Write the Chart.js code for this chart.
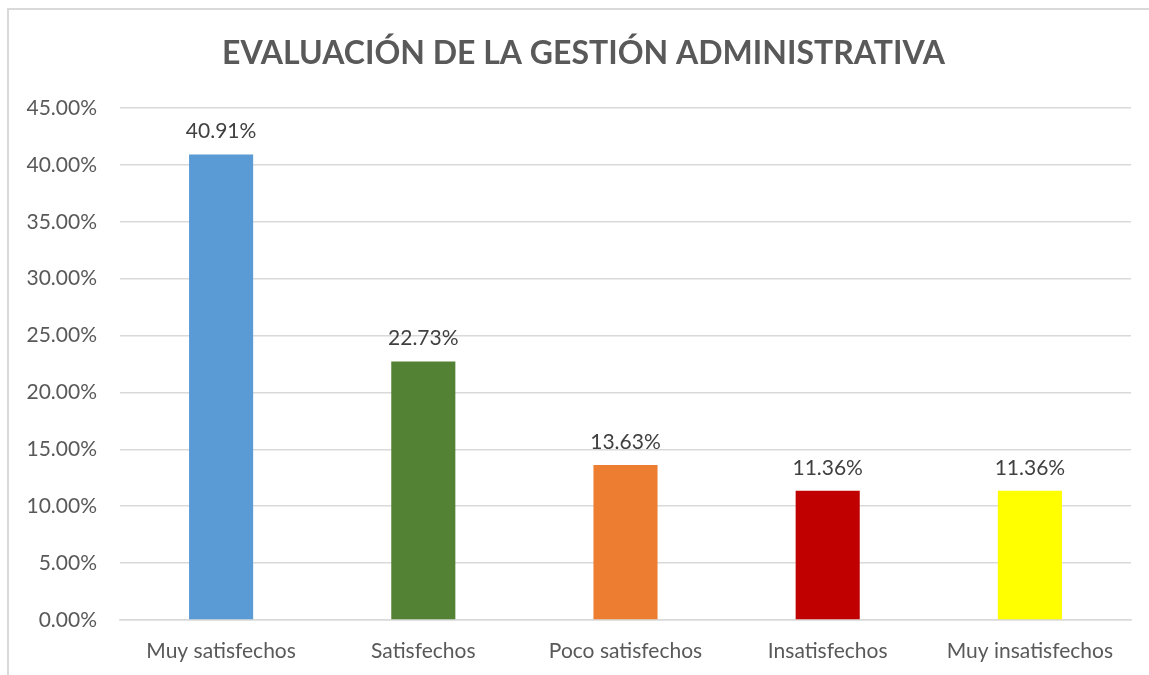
<!DOCTYPE html>
<html>
<head>
<meta charset="utf-8">
<script src="https://cdn.jsdelivr.net/npm/chart.js@4.4.1/dist/chart.umd.min.js"></script>
<style>
html,body{margin:0;padding:0;background:#fff;}
#wrap{position:absolute;left:0;top:0;width:1149px;height:675px;}
#frame{position:absolute;left:7px;top:8px;width:1160px;height:700px;border-left:2px solid #d9d9d9;border-top:2px solid #d9d9d9;box-sizing:border-box;pointer-events:none;}
canvas{position:absolute;left:0;top:0;}
</style>
</head>
<body>
<div id="wrap">
<canvas id="c" width="1149" height="675"></canvas>
<div id="frame"></div>
</div>
<script>
const titleText = 'EVALUACIÓN DE LA GESTIÓN ADMINISTRATIVA';
const categories = ['Muy satisfechos', 'Satisfechos', 'Poco satisfechos', 'Insatisfechos', 'Muy insatisfechos'];
const values = [40.91, 22.73, 13.63, 11.36, 11.36];
const barColors = ['#5B9BD5', '#548235', '#ED7D31', '#C00000', '#FFFF00'];
const yTicks = [0, 5, 10, 15, 20, 25, 30, 35, 40, 45];

const FONT = 'Lato, "Open Sans", sans-serif';

const dataLabels = {
  id: 'dataLabels',
  afterLayout(chart) {
    // center the title over the chart frame (which starts at x = 8)
    const t = chart.titleBlock;
    if (t) { t.left += 18; t.right += 18; }
  },
  afterDatasetsDraw(chart) {
    const ctx = chart.ctx;
    const meta = chart.getDatasetMeta(0);
    ctx.save();
    ctx.font = '21px ' + FONT;
    ctx.fillStyle = '#404040';
    ctx.textAlign = 'center';
    ctx.textBaseline = 'middle';
    meta.data.forEach((bar, i) => {
      ctx.fillText(values[i].toFixed(2) + '%', bar.x, bar.y - 23);
    });
    ctx.restore();
  }
};

new Chart(document.getElementById('c'), {
  type: 'bar',
  data: {
    labels: categories,
    datasets: [{
      data: values,
      backgroundColor: barColors,
      borderWidth: 0,
      categoryPercentage: 1,
      barPercentage: 0.317
    }]
  },
  options: {
    responsive: false,
    animation: false,
    devicePixelRatio: 1,
    layout: { padding: { left: 0, right: 18, top: 0, bottom: 0 } },
    plugins: {
      legend: { display: false },
      tooltip: { enabled: false },
      title: {
        display: true,
        text: titleText,
        color: '#595959',
        font: { family: FONT, size: 32, weight: 'bold', lineHeight: 1.2 },
        padding: { top: 34, bottom: 35.6 }
      }
    },
    scales: {
      x: {
        grid: { display: false, drawTicks: false },
        border: { display: true, color: '#d9d9d9', width: 1.5 },
        ticks: { color: '#595959', font: { family: FONT, size: 21 }, padding: 19, maxRotation: 0, autoSkip: false },
        afterFit(s) { s.height = 55; }
      },
      y: {
        min: 0,
        max: 45,
        afterBuildTicks(s) { s.ticks = yTicks.map(v => ({ value: v })); },
        grid: { color: '#d9d9d9', lineWidth: 1.5, drawTicks: false },
        border: { display: false },
        ticks: {
          color: '#595959',
          font: { family: FONT, size: 21 },
          padding: 23,
          callback: v => v.toFixed(2) + '%'
        },
        afterFit(s) { s.width = 120; }
      }
    }
  },
  plugins: [dataLabels]
});
</script>
</body>
</html>
